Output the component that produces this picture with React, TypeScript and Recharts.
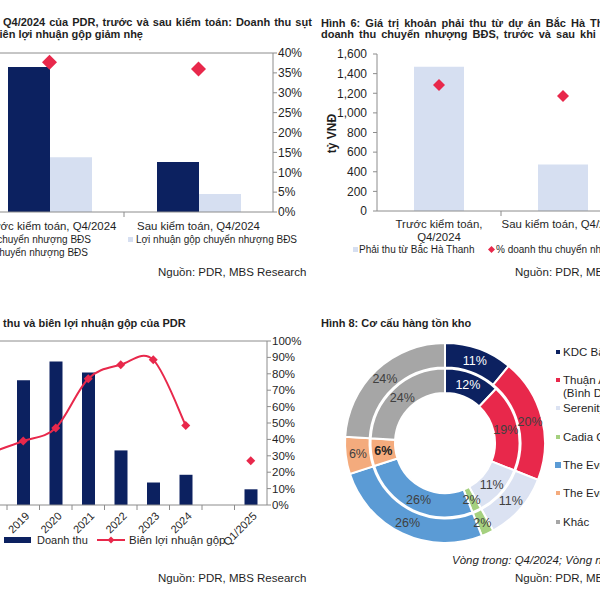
import React from "react";
import {
  ComposedChart,
  Bar,
  Line,
  XAxis,
  YAxis,
  ReferenceLine,
  PieChart,
  Pie,
  Cell,
} from "recharts";

const FONT = "'Liberation Sans', Arial, sans-serif";
const TEXT = "#1f1f1f";
const AXIS = "#8c8c8c";
const NAVY = "#0c2160";
const LIGHT = "#d6dff1";
const RED = "#e8284b";

// Hình 5 (cropped): before / after audit
const p1Categories = ["Trước kiểm toán, Q4/2024", "Sau kiểm toán, Q4/2024"];
const p1Revenue = [3650, 1260];
const p1GrossProfit = [1380, 450];
const p1Margin = [37.7, 36.0];
const p1Ticks = [0, 5, 10, 15, 20, 25, 30, 35, 40];

// Hình 6: receivable from Bắc Hà Thanh
const p2Categories = ["Trước kiểm toán,\nQ4/2024", "Sau kiểm toán, Q4/2024"];
const p2Receivable = [1470, 475];
const p2Share = [64.2, 58.6];
const p2Ticks = [0, 200, 400, 600, 800, 1000, 1200, 1400, 1600];

// Hình 7: revenue and gross margin
const p3Years = ["2018", "2019", "2020", "2021", "2022", "2023", "2024", "", "Q1/2025"];
const p3Revenue = [4600, 5330, 6125, 5655, 2330, 960, 1290, null, 670];
const p3Margin = [32, 39, 47, 77, 85.5, 88.5, 48.5, null, 27];
const p3Ticks = [0, 10, 20, 30, 40, 50, 60, 70, 80, 90, 100];

// Hình 8: inventory structure
const p4Names = [
  "KDC Bắc Hà Thanh",
  "Thuận An 1 & 2\n(Bình Dương)",
  "Serenity Phước Hải",
  "Cadia Quy Nhơn",
  "The EverRich Infinity",
  "The EverRich II",
  "Khác",
];
const p4Inner = [12, 19, 11, 2, 26, 6, 24];
const p4Outer = [11, 20, 11, 2, 26, 6, 24];
const p4Colors = ["#0c2160", "#e8284b", "#dbe2f2", "#a5d07f", "#5b9bd5", "#f4ab7d", "#a6a6a6"];

const data1 = p1Categories.map((name, i) => ({
  name,
  rev: p1Revenue[i],
  gp: p1GrossProfit[i],
  margin: p1Margin[i],
}));
const data2 = p2Categories.map((name, i) => ({ name, rec: p2Receivable[i], share: p2Share[i] }));
const data3 = p3Years.map((name, i) => ({ name, rev: p3Revenue[i], margin: p3Margin[i] }));
const inner4 = p4Names.map((name, i) => ({ name, value: p4Inner[i] }));
const outer4 = p4Names.map((name, i) => ({ name, value: p4Outer[i] }));

// Excel-like smoothed line (Catmull-Rom)
function smoothCurve(context: any) {
  let pts: number[][] = [];
  return {
    areaStart() {},
    areaEnd() {},
    lineStart() {
      pts = [];
    },
    point(x: number, y: number) {
      pts.push([+x, +y]);
    },
    lineEnd() {
      if (!pts.length) return;
      context.moveTo(pts[0][0], pts[0][1]);
      for (let i = 0; i < pts.length - 1; i++) {
        const p0 = pts[i - 1] || pts[i];
        const p1 = pts[i];
        const p2 = pts[i + 1];
        const p3 = pts[i + 2] || p2;
        context.bezierCurveTo(
          p1[0] + (p2[0] - p0[0]) / 6,
          p1[1] + (p2[1] - p0[1]) / 6,
          p2[0] - (p3[0] - p1[0]) / 6,
          p2[1] - (p3[1] - p1[1]) / 6,
          p2[0],
          p2[1]
        );
      }
    },
  };
}

const diamond = (r: number) => (p: any) => {
  const { cx, cy, index } = p;
  if (cx == null || cy == null || p.value == null) return <g key={index} />;
  return (
    <path
      key={index}
      d={`M${cx},${cy - r}L${cx + r},${cy}L${cx},${cy + r}L${cx - r},${cy}Z`}
      fill={RED}
    />
  );
};

const CatTick = (props: any) => {
  const { x, y, payload, index, band, count, first, gap } = props;
  const lines = String(payload.value).split("\n");
  return (
    <g>
      {lines.map((l, i) => (
        <text
          key={i}
          x={x}
          y={y + first + i * gap}
          dy="0.35em"
          textAnchor="middle"
          fontSize={11.4}
          fill={TEXT}
          fontFamily={FONT}
        >
          {l}
        </text>
      ))}
      {index < count - 1 && (
        <line x1={x + band / 2} x2={x + band / 2} y1={y} y2={y + 5} stroke={AXIS} />
      )}
    </g>
  );
};

const RotTick = (props: any) => {
  const { x, y, payload, index, band, count } = props;
  const ax = x + 4;
  const ay = y + 9;
  return (
    <g>
      <text
        x={ax}
        y={ay}
        dy="0.35em"
        textAnchor="end"
        transform={`rotate(-45, ${ax}, ${ay})`}
        fontSize={11}
        fill={TEXT}
        fontFamily={FONT}
      >
        {payload.value}
      </text>
      {index < count - 1 && (
        <line x1={x + band / 2} x2={x + band / 2} y1={y} y2={y + 5} stroke={AXIS} />
      )}
    </g>
  );
};

function T(props: {
  x: number;
  y: number;
  children: React.ReactNode;
  size?: number;
  bold?: boolean;
  italic?: boolean;
  right?: boolean;
  color?: string;
  ws?: number;
}) {
  const { x, y, children, size = 12, bold, italic, right, color = TEXT, ws = 0 } = props;
  const lh = size + 3;
  const style: React.CSSProperties = {
    position: "absolute",
    top: y - lh / 2,
    lineHeight: `${lh}px`,
    fontSize: size,
    fontWeight: bold ? 700 : 400,
    fontStyle: italic ? "italic" : "normal",
    whiteSpace: "nowrap",
    wordSpacing: ws,
    color,
    fontFamily: FONT,
  };
  if (right) {
    style.left = x - 1000;
    style.width = 1000;
    style.textAlign = "right";
  } else {
    style.left = x;
  }
  return <div style={style}>{children}</div>;
}

function Sq({ x, y, s, color }: { x: number; y: number; s: number; color: string }) {
  return (
    <div
      style={{ position: "absolute", left: x - s / 2, top: y - s / 2, width: s, height: s, background: color }}
    />
  );
}

const yTick = (size: number) => ({ fontSize: size, fill: TEXT, fontFamily: FONT });

// chart 1 layout
const W1 = 418;
const M1 = { top: 13, right: 5, bottom: 0, left: 75 };
const RA1 = 40;
const band1 = (W1 - M1.left - M1.right - RA1) / p1Categories.length;

// chart 2 layout
const W2 = 330;
const M2 = { top: 14, right: 5, bottom: 0, left: 20 };
const LA2 = 57;
const band2 = (W2 - M2.left - M2.right - LA2) / p2Categories.length;

// chart 3 layout
const W3 = 408;
const M3 = { top: 11, right: 6, bottom: 0, left: 74.5 };
const RA3 = 35;
const band3 = (W3 - M3.left - M3.right - RA3) / p3Years.length;

const RAD = Math.PI / 180;
const pieLabel = (ring: "inner" | "outer") => (p: any) => {
  const { cx, cy, midAngle, innerRadius, outerRadius, value, index } = p;
  const r = (innerRadius + outerRadius) / 2;
  const x = cx + r * Math.cos(-midAngle * RAD);
  const y = cy + r * Math.sin(-midAngle * RAD);
  const strong = ring === "inner" && index === 5;
  return (
    <text
      key={index}
      x={x}
      y={y}
      dy="0.35em"
      textAnchor="middle"
      fontSize={12.5}
      fontWeight={strong ? 700 : 400}
      fill={index === 0 ? "#ffffff" : strong ? "#222" : "#404040"}
      fontFamily={FONT}
    >
      {value}%
    </text>
  );
};

export default function App() {
  return (
    <div
      style={{
        position: "fixed",
        left: 0,
        top: 0,
        width: 600,
        height: 600,
        overflow: "hidden",
        background: "#fff",
        fontFamily: FONT,
      }}
    >
      {/* Panel 1 */}
      <T x={3} y={22} size={11} bold ws={1}>
        Q4/2024 của PDR, trước và sau kiểm toán: Doanh thu sụt
      </T>
      <T x={143} y={34} size={11} bold right>
        trong khi biên lợi nhuận gộp giảm nhẹ
      </T>
      <div style={{ position: "absolute", left: -100, top: 40 }}>
        <ComposedChart width={W1} height={222} data={data1} margin={M1} barGap={0}>
          <XAxis
            dataKey="name"
            interval={0}
            height={50}
            axisLine={{ stroke: AXIS }}
            tickLine={false}
            tickSize={0}
            tickMargin={0}
            tick={<CatTick band={band1} count={p1Categories.length} first={14} gap={13} />}
          />
          <YAxis yAxisId="l" hide domain={[0, 4000]} />
          <YAxis
            yAxisId="r"
            orientation="right"
            width={RA1}
            domain={[0, 40]}
            ticks={p1Ticks}
            interval={0}
            tickFormatter={(v) => `${v}%`}
            axisLine={{ stroke: AXIS }}
            tickLine={{ stroke: AXIS }}
            tickSize={4}
            tickMargin={1}
            tick={yTick(12)}
          />
          <ReferenceLine yAxisId="r" y={40} stroke={AXIS} />
          <Bar yAxisId="l" dataKey="rev" fill={NAVY} barSize={42} isAnimationActive={false} />
          <Bar yAxisId="l" dataKey="gp" fill={LIGHT} barSize={42} isAnimationActive={false} />
          <Line
            yAxisId="r"
            dataKey="margin"
            stroke="none"
            dot={diamond(7.5)}
            activeDot={false}
            isAnimationActive={false}
          />
        </ComposedChart>
      </div>
      <T x={91} y={239} size={10} right>
        Doanh thu chuyển nhượng BĐS
      </T>
      <Sq x={130} y={239} s={5} color={LIGHT} />
      <T x={136} y={239} size={10}>
        Lợi nhuận gộp chuyển nhượng BĐS
      </T>
      <T x={88} y={252} size={10} right>
        Biên lợi nhuận gộp chuyển nhượng BĐS
      </T>
      <T x={158} y={272} size={11.5}>
        Nguồn: PDR, MBS Research
      </T>

      {/* Panel 2 */}
      <T x={321} y={23} size={11} bold ws={2}>
        Hình 6: Giá trị khoản phải thu từ dự án Bắc Hà Thanh và tỷ trọng trên
      </T>
      <T x={321} y={34} size={11} bold ws={2}>
        doanh thu chuyển nhượng BĐS, trước và sau khi kiểm toán
      </T>
      <div
        style={{
          position: "absolute",
          left: 292,
          top: 126,
          width: 80,
          height: 15,
          lineHeight: "15px",
          textAlign: "center",
          fontSize: 12,
          fontWeight: 700,
          color: TEXT,
          transform: "rotate(-90deg)",
          whiteSpace: "nowrap",
        }}
      >
        tỷ VNĐ
      </div>
      <div style={{ position: "absolute", left: 300, top: 40 }}>
        <ComposedChart width={W2} height={216} data={data2} margin={M2}>
          <XAxis
            dataKey="name"
            interval={0}
            height={45}
            axisLine={{ stroke: AXIS }}
            tickLine={false}
            tickSize={0}
            tickMargin={0}
            tick={<CatTick band={band2} count={p2Categories.length} first={13} gap={13} />}
          />
          <YAxis
            yAxisId="l"
            width={LA2}
            domain={[0, 1600]}
            ticks={p2Ticks}
            interval={0}
            tickFormatter={(v) => Number(v).toLocaleString("en-US")}
            axisLine={{ stroke: AXIS }}
            tickLine={{ stroke: AXIS }}
            tickSize={4}
            tickMargin={6}
            tick={yTick(12)}
          />
          <YAxis yAxisId="r" orientation="right" hide domain={[0, 80]} />
          <Bar yAxisId="l" dataKey="rec" fill={LIGHT} barSize={50} isAnimationActive={false} />
          <Line
            yAxisId="r"
            dataKey="share"
            stroke="none"
            dot={diamond(6)}
            activeDot={false}
            isAnimationActive={false}
          />
        </ComposedChart>
      </div>
      <Sq x={355} y={249} s={5} color={LIGHT} />
      <T x={359} y={249} size={10}>
        Phải thu từ Bắc Hà Thanh
      </T>
      <svg style={{ position: "absolute", left: 488, top: 246 }} width={7} height={7}>
        <path d="M3.5,0L7,3.5L3.5,7L0,3.5Z" fill={RED} />
      </svg>
      <T x={496} y={249} size={10}>
        % doanh thu chuyển nhượng BĐS
      </T>
      <T x={515} y={272} size={11.5}>
        Nguồn: PDR, MBS Research
      </T>

      {/* Panel 3 */}
      <T x={3} y={323} size={11} bold>
        thu và biên lợi nhuận gộp của PDR
      </T>
      <div style={{ position: "absolute", left: -100, top: 330 }}>
        <ComposedChart width={W3} height={215} data={data3} margin={M3}>
          <XAxis
            dataKey="name"
            interval={0}
            height={40}
            axisLine={{ stroke: AXIS }}
            tickLine={false}
            tickSize={0}
            tickMargin={0}
            tick={<RotTick band={band3} count={p3Years.length} />}
          />
          <YAxis yAxisId="l" hide domain={[0, 7000]} />
          <YAxis
            yAxisId="r"
            orientation="right"
            width={RA3}
            domain={[0, 100]}
            ticks={p3Ticks}
            interval={0}
            tickFormatter={(v) => `${v}%`}
            axisLine={{ stroke: AXIS }}
            tickLine={{ stroke: AXIS }}
            tickSize={4}
            tickMargin={1}
            tick={yTick(11.5)}
          />
          <ReferenceLine yAxisId="r" y={100} stroke={AXIS} />
          <Bar yAxisId="l" dataKey="rev" fill={NAVY} barSize={13} isAnimationActive={false} />
          <Line
            yAxisId="r"
            dataKey="margin"
            type={smoothCurve as any}
            stroke={RED}
            strokeWidth={2}
            connectNulls={false}
            dot={diamond(4.5)}
            activeDot={false}
            isAnimationActive={false}
          />
        </ComposedChart>
      </div>
      <div style={{ position: "absolute", left: 4, top: 537, width: 27, height: 6, background: NAVY }} />
      <T x={37} y={540} size={11}>
        Doanh thu
      </T>
      <svg style={{ position: "absolute", left: 96, top: 535 }} width={30} height={10}>
        <line x1={1} x2={29} y1={5} y2={5} stroke={RED} strokeWidth={2} />
        <path d="M15,1.5L18.5,5L15,8.5L11.5,5Z" fill={RED} />
      </svg>
      <T x={129} y={540} size={11.5}>
        Biên lợi nhuận gộp
      </T>
      <T x={158} y={578} size={11.5}>
        Nguồn: PDR, MBS Research
      </T>

      {/* Panel 4 */}
      <T x={321} y={323} size={11} bold>
        Hình 8: Cơ cấu hàng tồn kho
      </T>
      <div style={{ position: "absolute", left: 300, top: 300 }}>
        <PieChart width={300} height={300}>
          <Pie
            data={inner4}
            dataKey="value"
            cx={140}
            cy={138}
            innerRadius={50}
            outerRadius={74.5}
            startAngle={90}
            endAngle={-270}
            stroke="#fff"
            strokeWidth={2}
            label={pieLabel("inner")}
            labelLine={false}
            isAnimationActive={false}
          >
            {inner4.map((_, i) => (
              <Cell key={i} fill={p4Colors[i]} />
            ))}
          </Pie>
          <Pie
            data={outer4}
            dataKey="value"
            cx={140}
            cy={138}
            innerRadius={75.5}
            outerRadius={100}
            startAngle={90}
            endAngle={-270}
            stroke="#fff"
            strokeWidth={2}
            label={pieLabel("outer")}
            labelLine={false}
            isAnimationActive={false}
          >
            {outer4.map((_, i) => (
              <Cell key={i} fill={p4Colors[i]} />
            ))}
          </Pie>
        </PieChart>
      </div>
      {p4Names.map((n, i) => {
        const ys = [352, 380, 408, 437, 465, 493, 522];
        const lines = n.split("\n");
        return (
          <React.Fragment key={i}>
            <Sq x={558} y={ys[i]} s={i === 4 ? 6 : 3.5} color={p4Colors[i]} />
            {lines.map((l, j) => (
              <T key={j} x={563} y={ys[i] + j * 13} size={11.5}>
                {l}
              </T>
            ))}
          </React.Fragment>
        );
      })}
      <T x={452} y={560} size={11.5} italic>
        Vòng trong: Q4/2024; Vòng ngoài: Q1/2025
      </T>
      <T x={515} y={578} size={11.5}>
        Nguồn: PDR, MBS Research
      </T>
    </div>
  );
}
